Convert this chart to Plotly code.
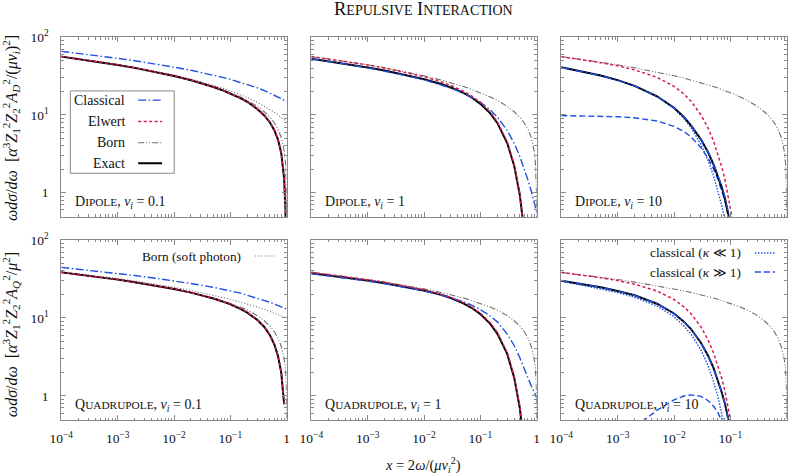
import plotly.graph_objects as go

# ---------------- data ----------------
XA = [1e-4, 2e-4, 5e-4, 1e-3, 2e-3, 5e-3, 0.01, 0.02, 0.03, 0.05, 0.07, 0.1, 0.15, 0.2,
      0.3, 0.4, 0.5, 0.6, 0.7, 0.8, 0.9, 0.95, 0.98, 0.99, 0.999]
XB = [1e-4, 2e-4, 5e-4, 1e-3, 2e-3, 5e-3, 0.01, 0.015, 0.02, 0.03, 0.04, 0.05, 0.06, 0.07,
      0.08, 0.1, 0.12, 0.15, 0.2, 0.3, 0.4, 0.5, 0.6, 0.7, 0.8, 0.9, 0.95, 0.98, 0.99, 0.999]

# Born (same in every panel of a row)
born_dip_A = [56.51, 52.82, 47.93, 44.23, 40.53, 35.64, 31.93, 28.20, 26.01, 23.24, 21.38, 19.40, 17.09,
              15.40, 12.91, 11.00, 9.40, 7.95, 6.56, 5.13, 3.49, 2.43, 1.52, 1.07, 0.337]
born_dip_B = [56.51, 52.82, 47.93, 44.23, 40.53, 35.64, 31.93, 29.75, 28.20, 26.01, 24.45, 23.24, 22.23,
              21.38, 20.64, 19.40, 18.37, 17.09, 15.40, 12.91, 11.00, 9.40, 7.95, 6.56, 5.13, 3.49,
              2.43, 1.52, 1.07, 0.337]
born_quad_A = [38.44, 36.22, 33.29, 31.06, 28.82, 25.85, 23.57, 21.24, 19.84, 18.01, 16.74, 15.40, 13.80,
               12.60, 10.70, 9.20, 7.90, 6.70, 5.50, 4.30, 3.00, 2.30, 1.60, 1.20, 0.45]
born_quad_B = [38.44, 36.22, 33.29, 31.06, 28.82, 25.85, 23.57, 22.22, 21.24, 19.84, 18.82, 18.01, 17.33,
               16.74, 16.23, 15.40, 14.70, 13.80, 12.60, 10.70, 9.20, 7.90, 6.70, 5.50, 4.30, 3.00,
               2.30, 1.60, 1.20, 0.45]

# Dipole, nu_i = 0.1
d01_exact = [56.4, 52.7, 47.8, 44.1, 40.4, 35.5, 31.8, 28.0, 25.8, 22.9, 21.0, 18.9, 16.5, 14.7, 11.95,
             9.85, 8.05, 6.4, 4.82, 3.22, 1.5, 0.6, 0.11, 0.017]
d01_elwert = [56.51, 52.82, 47.93, 44.22, 40.51, 35.61, 31.88, 28.11, 25.88, 23.03, 21.10, 19.04, 16.60,
              14.78, 12.06, 9.93, 8.12, 6.46, 4.87, 3.26, 1.53, 0.609, 0.112, 0.0175]
d01_classical = [66.0, 62.2, 57.3, 53.6, 49.9, 45.0, 41.3, 37.6, 35.4, 32.6, 30.7, 28.7, 26.4, 24.8, 22.4,
                 20.6, 19.2, 18.0, 17.0, 16.2, 15.5, 15.15, 14.95, 14.9, 14.8]
d01_soft = [57.26, 53.56, 48.68, 44.98, 41.28, 36.40, 32.70, 29.00, 26.84, 24.12, 22.32, 20.42, 18.26,
            16.72, 14.56, 13.03, 11.84, 10.87, 10.04, 9.33, 8.70, 8.41, 8.25, 8.19, 8.15]

# Dipole, nu_i = 1
d1_exact = [52.8, 49.2, 44.4, 40.9, 37.3, 32.5, 28.8, 25.0, 22.6, 19.3, 16.8, 13.9, 10.5, 7.9, 4.35, 2.2,
            0.95, 0.32, 0.066]
d1_elwert = [56.50, 52.77, 47.87, 44.11, 40.32, 35.17, 31.12, 26.74, 23.98, 20.27, 17.58, 14.54, 10.87,
             8.19, 4.52, 2.28, 0.98, 0.326, 0.067]
d1_classical = [52.8, 49.1, 44.2, 40.5, 36.8, 31.9, 28.4, 24.5, 22.2, 19.2, 17.0, 14.6, 11.6, 9.4, 6.3,
                4.3, 2.95, 2.05, 1.45, 1.05, 0.78, 0.66, 0.6, 0.58, 0.56]

# Dipole, nu_i = 10
d10_exact = [41.2, 37.4, 32.2, 28.1, 23.7, 17.4, 12.4, 9.4, 7.35, 4.85, 3.33, 2.33, 1.64, 1.18, 0.84,
             0.43, 0.22, 0.085]
d10_elwert = [56.33, 52.49, 47.19, 42.89, 38.09, 30.51, 23.38, 18.61, 15.05, 10.07, 6.83, 4.66, 3.18,
              2.17, 1.483, 0.683, 0.310, 0.0905]
d10_classical = [41.0, 37.2, 32.05, 27.98, 23.64, 17.35, 12.36, 9.42, 7.38, 4.90, 3.39, 2.39, 1.70, 1.23,
                 0.885, 0.464, 0.245, 0.09]
d10_small_kappa = [41.0, 37.2, 32.05, 27.98, 23.64, 17.34, 12.12, 9.01, 6.88, 4.18, 2.62, 1.67, 1.07,
                   0.69, 0.446, 0.187, 0.075]
d10_large_kappa = [9.8, 9.74, 9.65, 9.5, 9.2, 8.37, 7.15, 6.12, 5.23, 3.82, 2.79, 2.04, 1.49, 1.09, 0.79,
                   0.42, 0.22, 0.088]

# Quadrupole, nu_i = 0.1
q01_exact = [38.4, 36.2, 33.25, 31.0, 28.75, 25.75, 23.45, 21.1, 19.65, 17.75, 16.4, 14.95, 13.1, 11.7,
             9.45, 7.65, 6.05, 4.6, 3.25, 1.97, 0.78]
q01_elwert = [38.44, 36.22, 33.29, 31.06, 28.82, 25.83, 23.53, 21.17, 19.74, 17.85, 16.52, 15.06, 13.23,
              11.80, 9.55, 7.72, 6.12, 4.66, 3.29, 2.00, 0.81]
q01_classical = [44.5, 42.3, 39.4, 37.2, 35.0, 32.1, 29.9, 27.7, 26.4, 24.7, 23.6, 22.2, 20.8, 19.6, 17.9,
                 16.8, 15.9, 15.1, 14.5, 13.9, 13.4, 13.2, 13.05, 13.0, 13.0]
q01_soft = [39.42, 37.20, 34.27, 32.05, 29.84, 26.90, 24.69, 22.47, 21.17, 19.54, 18.46, 17.32, 16.02,
            15.10, 13.80, 12.88, 12.17, 11.59, 11.09, 10.66, 10.29, 10.11, 10.01, 9.98, 9.95]

# Quadrupole, nu_i = 1
q1_exact = [37.3, 35.2, 32.3, 30.1, 27.9, 24.9, 22.5, 19.8, 18.0, 15.4, 13.5, 11.2, 8.4, 6.3, 3.45, 1.7,
            0.71, 0.23, 0.044]
q1_elwert = [38.43, 36.20, 33.25, 30.98, 28.67, 25.51, 22.97, 20.14, 18.29, 15.71, 13.77, 11.50, 8.67,
             6.54, 3.58, 1.77, 0.741, 0.235, 0.045]
q1_classical = [37.0, 34.8, 31.9, 29.7, 27.5, 24.5, 22.2, 19.7, 18.2, 16.1, 14.6, 12.8, 10.6, 8.9, 6.2,
                4.4, 3.1, 2.3, 1.7, 1.35, 1.1, 1.02, 0.98, 0.96, 0.95]

# Quadrupole, nu_i = 10
q10_exact = [30.0, 27.8, 24.7, 22.2, 19.5, 15.2, 11.4, 8.95, 7.2, 4.8, 3.3, 2.3, 1.6, 1.12, 0.8, 0.4,
             0.2, 0.07]
q10_elwert = [38.32, 36.0, 32.78, 30.12, 27.09, 22.13, 17.26, 13.90, 11.34, 7.68, 5.26, 3.61, 2.48, 1.70,
              1.166, 0.540, 0.246, 0.072]
q10_classical = [30.1, 27.9, 24.8, 22.2, 19.5, 15.2, 11.3, 8.9, 7.15, 4.78, 3.28, 2.28, 1.6, 1.12, 0.8,
                 0.4, 0.2, 0.07]
q10_small_kappa = [29.8, 27.0, 23.8, 21.2, 18.4, 14.2, 10.4, 7.9, 6.2, 3.9, 2.45, 1.55, 0.98, 0.62, 0.39,
                   0.15, 0.06]
q10_large_kappa = [0.056, 0.089, 0.162, 0.254, 0.39, 0.655, 0.888, 0.995, 1.03, 0.986, 0.872, 0.74, 0.609,
                   0.494, 0.394, 0.244, 0.147]

x_tickvals = [1e-4, 1e-3, 1e-2, 1e-1, 1]
x_ticktext = ["10<sup>−4</sup>", "10<sup>−3</sup>", "10<sup>−2</sup>", "10<sup>−1</sup>", "1"]
y_tickvals = [1, 10, 100]
y_ticktext = ["1", "10<sup>1</sup>", "10<sup>2</sup>"]
SC = "<span style='font-size:11.3px'>"
panel_labels = ["D" + SC + "IPOLE</span>, <i>ν</i><sub><i>i</i></sub> = 0.1",
                "D" + SC + "IPOLE</span>, <i>ν</i><sub><i>i</i></sub> = 1",
                "D" + SC + "IPOLE</span>, <i>ν</i><sub><i>i</i></sub> = 10",
                "Q" + SC + "UADRUPOLE</span>, <i>ν</i><sub><i>i</i></sub> = 0.1",
                "Q" + SC + "UADRUPOLE</span>, <i>ν</i><sub><i>i</i></sub> = 1",
                "Q" + SC + "UADRUPOLE</span>, <i>ν</i><sub><i>i</i></sub> = 10"]

# ---------------- styles ----------------
FONT = "Liberation Serif, DejaVu Serif, serif"
BLUE = "#1f4fe3"
RED = "#d81b4a"
GRAY = "#6e6e6e"
FRAME = "#8a8a8a"
ST = {
    "classical": dict(color=BLUE, width=1.4, dash="8px,2.5px,1.5px,2.5px"),
    "elwert": dict(color=RED, width=1.5, dash="3px,2.5px"),
    "born": dict(color=GRAY, width=1.1, dash="6px,2px,1px,2px,1px,2px"),
    "exact": dict(color="black", width=2.0),
    "soft": dict(color=GRAY, width=1.1, dash="1px,2px"),
    "small": dict(color=BLUE, width=1.4, dash="1.5px,1.5px"),
    "large": dict(color=BLUE, width=1.4, dash="6px,3px"),
}

fig = go.Figure()


def add(p, xs, ys, style):
    fig.add_trace(go.Scatter(x=xs[:len(ys)], y=ys, mode="lines", line=ST[style],
                             xaxis="x" + ("" if p == 1 else str(p)),
                             yaxis="y" + ("" if p == 1 else str(p)),
                             showlegend=False, hoverinfo="skip"))


# panel 1
add(1, XA, born_dip_A, "born"); add(1, XA, d01_soft, "soft"); add(1, XA, d01_classical, "classical")
add(1, XA, d01_exact, "exact"); add(1, XA, d01_elwert, "elwert")
# panel 2
add(2, XA, born_dip_A, "born"); add(2, XA, d1_exact, "exact"); add(2, XA, d1_classical, "classical")
add(2, XA, d1_elwert, "elwert")
# panel 3
add(3, XB, born_dip_B, "born"); add(3, XB, d10_large_kappa, "large"); add(3, XB, d10_small_kappa, "small")
add(3, XB, d10_exact, "exact"); add(3, XB, d10_classical, "classical"); add(3, XB, d10_elwert, "elwert")
# panel 4
add(4, XA, born_quad_A, "born"); add(4, XA, q01_soft, "soft"); add(4, XA, q01_classical, "classical")
add(4, XA, q01_exact, "exact"); add(4, XA, q01_elwert, "elwert")
# panel 5
add(5, XA, born_quad_A, "born"); add(5, XA, q1_exact, "exact"); add(5, XA, q1_classical, "classical")
add(5, XA, q1_elwert, "elwert")
# panel 6
add(6, XB, born_quad_B, "born"); add(6, XB, q10_large_kappa, "large"); add(6, XB, q10_small_kappa, "small")
add(6, XB, q10_exact, "exact"); add(6, XB, q10_classical, "classical"); add(6, XB, q10_elwert, "elwert")

# ---------------- axes ----------------
XDOM = [[0.0777, 0.3634], [0.3946, 0.6802], [0.7114, 0.9971]]
YDOM = [[0.5428, 0.9213], [0.1139, 0.4937]]
x_minor = [m * 10 ** e for e in range(-4, 0) for m in range(2, 10)]
y_minor = [m * 10 ** e for e in range(-1, 2) for m in range(2, 10) if m * 10 ** e >= 0.45]
tickfont = dict(family=FONT, size=13.5, color="#111")

layout = dict(width=789, height=474, margin=dict(l=0, r=0, t=0, b=0, autoexpand=False), autosize=False,
              template="none", paper_bgcolor="white", plot_bgcolor="white", showlegend=False)
for p in range(1, 7):
    r, c = (p - 1) // 3, (p - 1) % 3
    sfx = "" if p == 1 else str(p)
    layout["xaxis" + sfx] = dict(
        type="log", range=[-4, 0], domain=XDOM[c], anchor="y" + sfx, automargin=False,
        showline=True, linecolor=FRAME, linewidth=1, mirror="allticks",
        ticks="inside", ticklen=5, tickcolor=FRAME, tickwidth=1,
        tickvals=x_tickvals, ticktext=x_ticktext, showticklabels=(r == 1),
        tickfont=tickfont, ticklabelstandoff=6,
        minor=dict(ticks="inside", ticklen=2.5, tickcolor=FRAME, tickvals=x_minor, showgrid=False),
        showgrid=False, zeroline=False)
    layout["yaxis" + sfx] = dict(
        type="log", range=[-0.31, 2.0], domain=YDOM[r], anchor="x" + sfx, automargin=False,
        showline=True, linecolor=FRAME, linewidth=1, mirror="allticks",
        ticks="inside", ticklen=5, tickcolor=FRAME, tickwidth=1,
        tickvals=y_tickvals, ticktext=y_ticktext, showticklabels=(c == 0),
        tickfont=tickfont, ticklabelstandoff=9,
        minor=dict(ticks="inside", ticklen=2.5, tickcolor=FRAME, tickvals=y_minor, showgrid=False),
        showgrid=False, zeroline=False)
fig.update_layout(**layout)

# ---------------- annotations ----------------
ann = []
tf = dict(family=FONT, size=14, color="#111")
smallf = dict(family=FONT, size=13.3, color="#111")
ann.append(dict(text="R<span style='font-size:14px'>EPULSIVE</span> I<span style='font-size:14px'>NTERACTION</span>",
                x=0.5368, y=0.981, xref="paper", yref="paper", showarrow=False,
                font=dict(family=FONT, size=18.5, color="#111"), xanchor="center", yanchor="middle"))
ann.append(dict(text="<i>x</i> = 2<i>ω</i>/(<i>μv</i><sub><i>i</i></sub><sup>2</sup>)",
                x=0.536, y=0.019, xref="paper", yref="paper", showarrow=False,
                font=dict(family=FONT, size=14.5, color="#111"),
                xanchor="center", yanchor="middle"))
ann.append(dict(text="<i>ωdσ</i>/<i>dω</i>  [<i>α</i><sup>3</sup><i>Z</i><sub>1</sub><sup>2</sup><i>Z</i><sub>2</sub><sup>2</sup><i>A</i><sub><i>D</i></sub><sup>2</sup>/(<i>μv<sub>i</sub></i>)<sup>2</sup>]",
                x=0.014, y=0.730, xref="paper", yref="paper", showarrow=False,
                font=dict(family=FONT, size=16, color="#111"),
                textangle=-90, xanchor="center", yanchor="middle"))
ann.append(dict(text="<i>ωdσ</i>/<i>dω</i>  [<i>α</i><sup>3</sup><i>Z</i><sub>1</sub><sup>2</sup><i>Z</i><sub>2</sub><sup>2</sup><i>A</i><sub><i>Q</i></sub><sup>2</sup>/<i>μ</i><sup>2</sup>]",
                x=0.014, y=0.293, xref="paper", yref="paper", showarrow=False,
                font=dict(family=FONT, size=16, color="#111"),
                textangle=-90, xanchor="center", yanchor="middle"))
for p in range(1, 7):
    sfx = "" if p == 1 else str(p)
    ann.append(dict(text=panel_labels[p - 1], x=0.053, y=0.082, xref="x" + sfx + " domain",
                    yref="y" + sfx + " domain", showarrow=False, font=tf,
                    xanchor="left", yanchor="middle"))

shapes = []
legfont = dict(family=FONT, size=14, color="#111")
# legend in panel 1
shapes.append(dict(type="rect", xref="x domain", yref="y domain", x0=0.040, x1=0.501, y0=0.242, y1=0.701,
                   line=dict(color=FRAME, width=1), fillcolor="white", layer="above"))
leg = [("Classical", "classical", 0.650), ("Elwert", "elwert", 0.531), ("Born", "born", 0.412),
       ("Exact", "exact", 0.298)]
for name, st, yy in leg:
    ann.append(dict(text=name, x=0.292, y=yy, xref="x domain", yref="y domain", showarrow=False,
                    font=legfont, xanchor="right", yanchor="middle"))
    shapes.append(dict(type="line", xref="x domain", yref="y domain", x0=0.341, x1=0.447, y0=yy, y1=yy,
                       line=ST[st], layer="above"))
# legend in panel 4
ann.append(dict(text="Born (soft photon)", x=0.806, y=0.911, xref="x4 domain", yref="y4 domain",
                showarrow=False, font=smallf, xanchor="right", yanchor="middle"))
shapes.append(dict(type="line", xref="x4 domain", yref="y4 domain", x0=0.860, x1=0.948, y0=0.911, y1=0.911,
                   line=ST["soft"]))
# legend in panel 6
for name, st, yy in [("classical (<i>κ</i> ≪ 1)", "small", 0.928), ("classical (<i>κ</i> ≫ 1)", "large", 0.822)]:
    ann.append(dict(text=name, x=0.806, y=yy, xref="x6 domain", yref="y6 domain", showarrow=False,
                    font=smallf, xanchor="right", yanchor="middle"))
    shapes.append(dict(type="line", xref="x6 domain", yref="y6 domain", x0=0.859, x1=0.948, y0=yy, y1=yy,
                       line=ST[st]))

fig.update_layout(annotations=ann, shapes=shapes)
fig.write_html("out.html", config={"displayModeBar": False},
               post_script="document.body.style.margin='0px';document.body.style.overflow='hidden';")
